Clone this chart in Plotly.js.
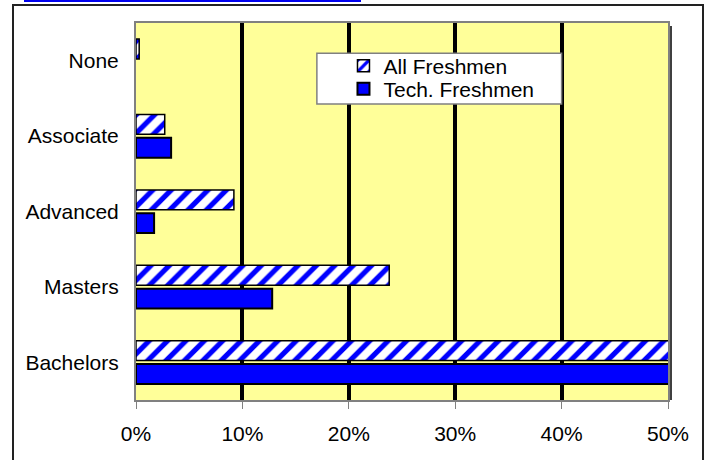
<!DOCTYPE html>
<html>
<head>
<meta charset="utf-8">
<script src="https://cdn.plot.ly/plotly-3.0.1.min.js"></script>
<style>
  html, body { margin: 0; padding: 0; background: #fff; }
  #wrap { position: relative; width: 709px; height: 460px; overflow: hidden; }
  #chart { position: absolute; left: 0; top: 0; width: 709px; height: 460px; }
  #frame { position: absolute; left: 12px; top: 4px; width: 688px; height: 470px; border: 2px solid #222; pointer-events: none; }
  #topline { position: absolute; left: 24px; top: 0px; width: 337px; height: 2px; background: #0000ee; }
</style>
</head>
<body>
<div id="wrap">
  <div id="topline"></div>
  <div id="chart"></div>
  <div id="frame"></div>
</div>
<script>
// data listed bottom-to-top as in the chart
const categories = ['Bachelors', 'Masters', 'Advanced', 'Associate', 'None'];
const allFreshmen = [0.505, 0.238, 0.092, 0.027, 0.003];
const techFreshmen = [0.505, 0.128, 0.017, 0.033, 0.0];
const seriesNames = ['All Freshmen', 'Tech. Freshmen'];
const tickVals = [0, 0.1, 0.2, 0.3, 0.4, 0.5];
const tickText = ['0%', '10%', '20%', '30%', '40%', '50%'];

const font = { family: 'Liberation Sans, Arial, sans-serif', size: 21, color: '#000' };

const traces = [
  {
    type: 'bar', orientation: 'h', name: seriesNames[0], legend: 'legend',
    y: categories, x: allFreshmen, cliponaxis: false,
    marker: {
      color: '#FFFFFF',
      line: { color: '#000', width: 1.5 },
      pattern: { shape: '/', fgcolor: '#0000FF', bgcolor: '#FFFFFF', size: 13, solidity: 0.4 }
    },
    hoverinfo: 'x+name'
  },
  {
    type: 'bar', orientation: 'h', name: seriesNames[1], legend: 'legend2',
    // a zero share draws no bar at all (as in the original)
    y: categories, x: techFreshmen.map(v => v > 0 ? v : null), cliponaxis: false,
    marker: { color: '#0000FF', line: { color: '#000', width: 2 } },
    hoverinfo: 'x+name'
  }
];

const plotW = 532;
const legendCommon = {
  x: 0.39, xanchor: 'left', yanchor: 'top',
  bgcolor: 'rgba(0,0,0,0)', borderwidth: 0,
  font: font, itemwidth: 30
};
const layout = {
  width: 709, height: 460,
  margin: { l: 136, r: 41, t: 23, b: 60, pad: 0 },
  paper_bgcolor: 'rgba(0,0,0,0)',
  plot_bgcolor: '#FFFF99',
  font: font,
  barmode: 'group',
  bargap: 0.38,
  bargroupgap: 0.15,
  showlegend: true,
  legend: Object.assign({}, legendCommon, { y: 0.94 }),
  legend2: Object.assign({}, legendCommon, { y: 0.879 }),
  xaxis: {
    range: [0, 0.5], tickvals: tickVals, ticktext: tickText,
    showgrid: true, gridcolor: '#000', gridwidth: 4,
    zeroline: false, showline: true, linecolor: '#808080', linewidth: 2, mirror: true,
    ticks: 'outside', ticklen: 7, tickcolor: '#808080', tickwidth: 1,
    ticklabelstandoff: 7, fixedrange: true
  },
  yaxis: {
    type: 'category', categoryorder: 'array', categoryarray: categories.slice().reverse(),
    autorange: 'reversed',
    showgrid: false, zeroline: false, showline: true, linecolor: '#808080', linewidth: 2, mirror: true,
    ticks: '', ticklabelstandoff: 11, fixedrange: true
  },
  shapes: [
    { type: 'rect', xref: 'paper', yref: 'paper', x0: 0.34, x1: 0.8, y0: 0.785, y1: 0.92,
      fillcolor: '#FFFFFF', line: { color: '#808080', width: 1.5 }, layer: 'above' },
    { type: 'line', xref: 'paper', yref: 'paper', x0: 1 + 3 / plotW, x1: 1 + 3 / plotW, y0: 0, y1: 1 - 3 / 377,
      line: { color: '#404040', width: 2 }, layer: 'below' }
  ]
};

Plotly.newPlot('chart', traces, layout, { displayModeBar: false, staticPlot: true });
</script>
</body>
</html>
